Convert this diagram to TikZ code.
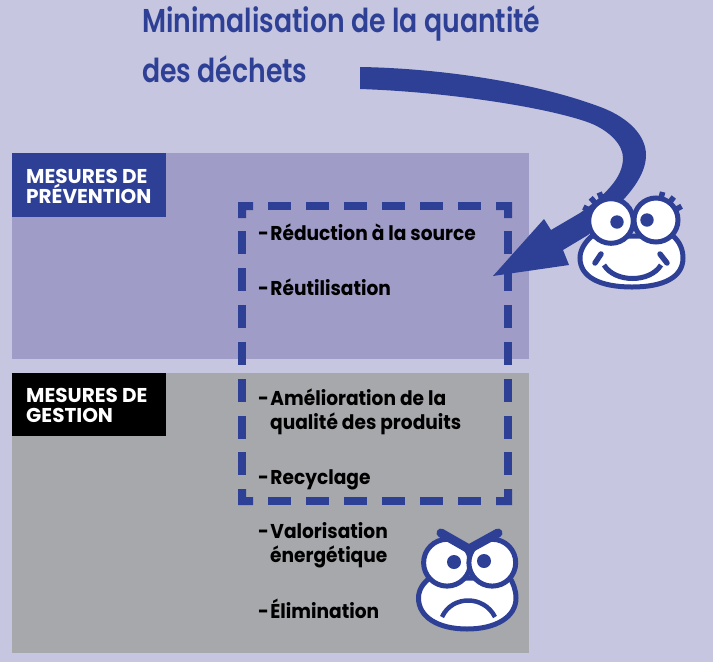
\documentclass[tikz,border=0pt]{standalone}
\usepackage{fontspec}
\setmainfont{Poppins}
\newfontfamily\itemfont[FakeStretch=0.93]{Poppins}
\newfontfamily\tagfont{Poppins}
\newfontfamily\ttlfont[FakeStretch=0.81]{Poppins SemiBold}
\definecolor{bgc}{HTML}{C6C6E0}
\definecolor{prevc}{HTML}{A09CC8}
\definecolor{gestc}{HTML}{A7A8AC}
\definecolor{bluec}{HTML}{2E4095}
\newcommand{\hy}{-\kern-2.5pt\ }
\tikzset{
  item/.style={anchor=base west,inner sep=0pt,font=\itemfont\bfseries\fontsize{20}{20}\selectfont,text=black},
  tag/.style={anchor=base west,inner sep=0pt,font=\tagfont\bfseries\fontsize{20}{20}\selectfont,text=white},
  ttl/.style={anchor=base west,inner sep=0pt,font=\ttlfont\fontsize{33}{33}\selectfont,text=bluec},
  dashp/.style={fill=bluec},
  froge/.style={draw=bluec,line width=5pt,fill=white},
  frogl/.style={draw=bluec,line width=5pt},
  lash/.style={draw=bluec,line width=5.5pt},
  pup/.style={fill=bluec}
}
\begin{document}
\begin{tikzpicture}[x=1pt,y=-1pt]
\useasboundingbox (0,0) rectangle (713,662);
\fill[bgc] (0,0) rectangle (713,662);
\fill[prevc] (12,153) rectangle (529,359);
\fill[gestc] (12,373) rectangle (529,653);
\fill[bluec] (12,153) rectangle (166,217);
\fill[black] (12,373) rectangle (166,436);
\node[tag] (t1) at (26,183) {MESURES DE};
\node[tag] (t2) at (26,203) {PRÉVENTION};
\node[tag] (t3) at (26,402) {MESURES DE};
\node[tag] (t4) at (26,422) {GESTION};
\node[ttl] (h1) at (142,32) {Minimalisation de la quantité};
\node[ttl] (h2) at (142,82) {des déchets};
\node[item] (i1) at (258,240) {\hy Réduction à la source};
\node[item] (i2) at (258,295) {\hy Réutilisation};
\node[item] (i3) at (258,405) {\hy Amélioration de la};
\node[item] (i4) at (270,429) {qualité des produits};
\node[item] (i5) at (258,484) {\hy Recyclage};
\node[item] (i6) at (258,538) {\hy Valorisation};
\node[item] (i7) at (270,562) {énergétique};
\node[item] (i8) at (258,618) {\hy Élimination};
% dashed frame
\fill[dashp] (238,202) -| (253,210) -| (246,218) -| cycle;
\fill[dashp] (512,202) -| (496,210) -| (504,218) -| cycle;
\fill[dashp] (238,505) -| (253,497) -| (246,489) -| cycle;
\fill[dashp] (512,505) -| (496,497) -| (504,489) -| cycle;
\foreach \x in {268,306,344,382,420,458} {
  \fill[dashp] (\x,202) rectangle (\x+23,210);
  \fill[dashp] (\x,497) rectangle (\x+23,505);
}
\foreach \y in {231,268,305,342,379,416,452} {
  \fill[dashp] (238,\y) rectangle (246,\y+23);
  \fill[dashp] (504,\y) rectangle (512,\y+23);
}
% big arrow
\fill[bluec] (360,67) .. controls (430,68) and (530,80) .. (603,108)
  .. controls (628,118) and (646,135) .. (646,155)
  .. controls (646,175) and (630,195) .. (605,218)
  -- (588,235) -- (563,250) -- (569,265) -- (493,276) -- (544,219) -- (551,230) -- (580,213)
  .. controls (605,195) and (623,178) .. (623,158)
  .. controls (623,145) and (610,131) .. (590,123)
  .. controls (550,108) and (450,92) .. (360,89) -- cycle;
% happy frog
\draw[lash] (602.6,200.6) -- (599.2,192.5);
\draw[lash] (596.6,204.5) -- (590.7,197.8);
\draw[lash] (591.4,211) -- (583.4,207.1);
\draw[lash] (661,198.7) -- (662.6,192);
\draw[lash] (669.4,202.6) -- (673.8,197);
\draw[lash] (675.4,209.7) -- (681.6,206.3);
\draw[froge] (632,287) .. controls (600,287) and (580,277) .. (580,258)
  .. controls (580,250) and (585,242) .. (592,236)
  -- (673,236) .. controls (680,242) and (683,250) .. (683,258)
  .. controls (683,277) and (664,287) .. (632,287) -- cycle;
\draw[froge] (611,221) circle (22.3);
\draw[froge] (656,220) circle (22);
\fill[pup] (617,222) circle (6.7);
\fill[pup] (647,220) circle (6.7);
\draw[frogl] (604,265) .. controls (615,283) and (650,283) .. (661,265);
\draw[draw=bluec,line width=5.5pt,line cap=round] (595,263) -- (601,254);
\draw[draw=bluec,line width=5.5pt,line cap=round] (660,254) -- (667,263);
% angry frog
\draw[froge] (467,629) .. controls (438,629) and (418.5,617) .. (418.5,598)
  .. controls (418.5,590) and (423,583) .. (430,578)
  -- (510,578) .. controls (513,583) and (516,590) .. (516,598)
  .. controls (516,617) and (496,629) .. (467,629) -- cycle;
\draw[froge] (447,562.7) circle (23.4);
\draw[froge] (492.3,562.7) circle (23.4);
\fill[pup] (454,562) circle (7);
\fill[pup] (484,561) circle (7);
\draw[draw=bluec,line width=9pt,line cap=round,line join=miter] (441,533) -- (469,549) -- (498,533);
\draw[draw=bluec,line width=4.5pt] (442,617) .. controls (452,595) and (484,595) .. (495,617);
\end{tikzpicture}
\end{document}
